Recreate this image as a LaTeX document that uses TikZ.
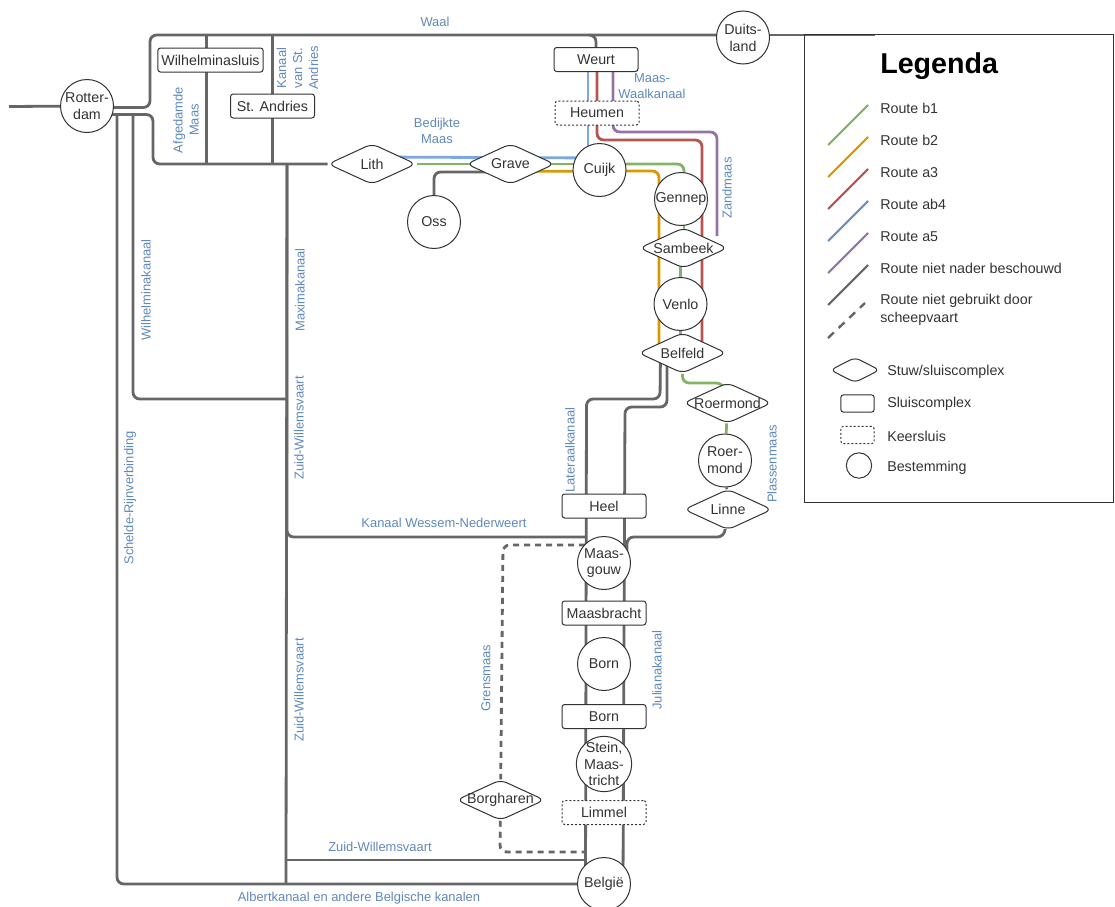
\documentclass[tikz,border=0pt]{standalone}
\usepackage{fontspec}
\setmainfont{Liberation Sans}
\usetikzlibrary{calc,backgrounds,shapes.geometric}
\definecolor{cgreen}{HTML}{82B366}
\definecolor{corange}{HTML}{D79B00}
\definecolor{cred}{HTML}{B85450}
\definecolor{cblue}{HTML}{6C8EBF}
\definecolor{clight}{HTML}{7EA6E0}
\definecolor{cpurple}{HTML}{9673A6}
\definecolor{cline}{HTML}{666666}
\definecolor{ctext}{HTML}{333333}
\definecolor{clabel}{HTML}{5F88BC}
\newcommand{\nb}[1]{\makebox[0pt]{#1}}
\tikzset{
  bnode/.style={draw=ctext, fill=white, line width=0.75pt, text=ctext, inner sep=0pt,
      align=center, font=\fontsize{10.7}{12.6}\selectfont},
  best/.style={bnode, circle, minimum size=39.75pt},
  sluis/.style={bnode, rectangle, rounded corners=2pt, minimum width=63pt, minimum height=18pt},
  keer/.style={sluis, densely dashed, dash pattern=on 1.5pt off 1.5pt},
  stuw/.style={bnode, diamond, rounded corners=5pt, minimum width=66pt, minimum height=30.5pt},
  rte/.style={line width=2.1pt, rounded corners=5pt},
  grl/.style={rte, cline},
  gdash/.style={grl, dash pattern=on 4.5pt off 3.75pt},
  lab/.style={text=clabel, inner sep=0pt, align=center, font=\fontsize{9.7}{12}\selectfont},
  vlab/.style={lab, rotate=90},
  ltx/.style={text=ctext, inner sep=0pt, anchor=west, align=left, font=\fontsize{10.7}{13.5}\selectfont},
}
\begin{document}
\begin{tikzpicture}[x=0.75pt,y=-0.75pt]
\useasboundingbox (0,0) rectangle (1115,907);
% legend box
\node[draw=ctext, line width=0.75pt, minimum width=231.5pt, minimum height=351pt, inner sep=0pt] (legbox) at (958.7,268.7) {};
% destinations
\node[best] (rotterdam) at (87,106) {\nb{Rotter-}\\\nb{dam}};
\node[best] (duitsland) at (743,37.5) {\nb{Duits-}\\\nb{land}};
\node[best] (cuijk) at (599.5,170) {\nb{Cuijk}};
\node[best] (oss) at (434,222) {\nb{Oss}};
\node[best] (gennep) at (681,199) {\nb{Gennep}};
\node[best] (venlo) at (680.5,304) {\nb{Venlo}};
\node[best] (roermondst) at (725,460.5) {\nb{Roer-}\\\nb{mond}};
\node[best] (maasgouw) at (604,563) {\nb{Maas-}\\\nb{gouw}};
\node[best] (bornst) at (604,664) {\nb{Born}};
\node[best, minimum size=41.5pt] (stein) at (604,764) {\nb{Stein,}\\\nb{Maas-}\\\nb{tricht}};
\node[best] (belgie) at (604,884) {\nb{België}};
% locks
\node[sluis, minimum width=79pt] (wilhelmina) at (210.5,60) {\nb{Wilhelminasluis}};
\node[sluis] (standries) at (272.5,106) {\nb{St. Andries}};
\node[sluis] (weurt) at (596,59.5) {\nb{Weurt}};
\node[keer] (heumen) at (597,113) {\nb{Heumen}};
\node[sluis] (heel) at (604,506) {\nb{Heel}};
\node[sluis] (maasbracht) at (604,613) {\nb{Maasbracht}};
\node[sluis] (bornsl) at (604,716.5) {\nb{Born}};
\node[keer] (limmel) at (604,812.5) {\nb{Limmel}};
% weirs
\node[stuw] (lith) at (372,164) {\nb{Lith}};
\node[stuw] (grave) at (510.5,164) {\nb{Grave}};
\node[stuw] (sambeek) at (683.5,248) {\nb{Sambeek}};
\node[stuw] (belfeld) at (682.5,353) {\nb{Belfeld}};
\node[stuw] (roermond) at (727.5,403) {\nb{Roermond}};
\node[stuw] (linne) at (728,509.5) {\nb{Linne}};
\node[stuw] (borgharen) at (500.5,800) {\nb{Borgharen}};
% free ends
\coordinate (west) at (9,106.5);
\coordinate (legtop) at (875,35);
\coordinate (wtop) at (206.5,35);
\coordinate (wbot) at (206.5,164);
\coordinate (atop) at (272.5,35);
\coordinate (abot) at (272.5,164);
\coordinate (mtop) at (287,164);
\coordinate (mbot) at (286,884);
\coordinate (wktop) at (133,115);
\coordinate (srtop) at (117,115);
\coordinate (wtl) at (590,35);
\coordinate (zand) at (717,236);
\coordinate (zwv) at (286,860);
\begin{scope}[on background layer]
  % grey network
  \draw[grl] (west) -- (rotterdam);
  \draw[grl] ($(rotterdam)+(0,1.5)$) -- (150,107.5) -- (150,35) -- ($(duitsland)+(0,-2.5)$);
  \draw[grl] ($(duitsland)+(0,-2.5)$) -- (legtop);
  \draw[grl] ($(rotterdam)+(0,8.5)$) -- (153,114.5) -- (153,164) -- (lith);
  \draw[grl] (wtop) -- (wbot);
  \draw[grl] (atop) -- (abot);
  \draw[grl] (srtop) -- (117,884) -- (belgie);
  \draw[grl] (wktop) -- (133,399) -- (287,399);
  \draw[grl] (mtop) -- (mbot);
  \draw[grl] (mtop) -- (287,537) -- ($(maasgouw)+(-19,-26)$);
  \draw[grl] (zwv) -- ($(belgie)+(-19,-24)$);
  \draw[grl] (wtl) -- (596,35) -- (weurt);
  \draw[grl] (oss) -- (434,172) -- ($(grave)+(0,8)$);
  \draw[grl] ($(belfeld)+(-22,0)$) -- (660,399) -- (586.5,399) -- ($(belgie)+(-18.5,0)$);
  \draw[grl] ($(belfeld)+(-15.5,0)$) -- (667,407) -- (625,407) -- ($(belgie)+(19,0)$);
  \draw[grl] (linne) -- (724,537) -- (627,537) -- ($(maasgouw)+(23,-8)$);
  \draw[grl] (roermondst) -- (linne);
  \draw[gdash] ($(maasgouw)+(-19,-18)$) -- (503,545) -- (borgharen);
  \draw[gdash] (borgharen) -- (500,852) -- ($(belgie)+(-19,-32)$);
  % routes
  \draw[rte, clight] ($(weurt)+(-8,0)$) -- ($(cuijk)+(-11.5,0)$);
  \draw[rte, clight] ($(cuijk)+(0,-12)$) -- ($(lith)+(0,-7)$);
  \draw[rte, cred] ($(weurt)+(1,0)$) -- (597,140) -- (702,140) -- ($(belfeld)+(19.5,0)$);
  \draw[rte, cpurple] ($(weurt)+(17,0)$) -- (613,132) -- (717,132) -- (zand);
  \draw[rte, cgreen] (lith) -- ($(cuijk)+(0,-6)$);
  \draw[rte, cgreen] ($(cuijk)+(0,-6)$) -- (684,164) -- ($(gennep)+(3,0)$);
  \draw[rte, cgreen] ($(gennep)+(3,0)$) -- ($(sambeek)+(0.5,0)$);
  \draw[rte, cgreen] ($(sambeek)+(-3,0)$) -- (venlo);
  \draw[rte, cgreen] (venlo) -- ($(belfeld)+(-2,0)$);
  \draw[rte, cgreen] (belfeld) -- (682.5,383) -- (723,383) -- (roermond);
  \draw[rte, cgreen] (roermond) -- (roermondst);
  \draw[rte, corange] ($(grave)+(0,7.5)$) -- ($(cuijk)+(0,1)$);
  \draw[rte, corange] ($(cuijk)+(0,1)$) -- (659,171) -- ($(belfeld)+(-23.5,0)$);
\end{scope}
% waterway names
\node[lab] (waal) at (435,22) {Waal};
\node[lab] (bedijkt) at (437,131) {Bedijkte\\Maas};
\node[lab] (mwk) at (652,86) {Maas-\\Waalkanaal};
\node[vlab] (zandm) at (727,188) {Zandmaas};
\node[vlab] (afged) at (186,120) {Afgedamde\\Maas};
\node[vlab] (kvsa) at (297.5,68) {Kanaal\\van St.\\Andries};
\node[vlab] (wilhk) at (146,290) {Wilhelminakanaal};
\node[vlab] (maxk) at (300,290) {Maximakanaal};
\node[vlab] (zwa) at (299,428) {Zuid-Willemsvaart};
\node[vlab] (zwb) at (299,690) {Zuid-Willemsvaart};
\node[vlab] (srv) at (130,498) {Schelde-Rijnverbinding};
\node[lab] (kwn) at (444,523) {Kanaal Wessem-Nederweert};
\node[vlab] (latk) at (570,450) {Lateraalkanaal};
\node[vlab] (plas) at (772,464) {Plassenmaas};
\node[vlab] (grens) at (486,678) {Grensmaas};
\node[vlab] (jul) at (657,670) {Julianakanaal};
\node[lab] (zwc) at (380,847) {Zuid-Willemsvaart};
\node[lab] (alb) at (359,898) {Albertkanaal en andere Belgische kanalen};
% legend
\node[inner sep=0pt, anchor=west, text=black, font=\fontsize{21.5}{24}\selectfont\bfseries] (legtitle) at (880,66) {Legenda};
\foreach \col/\yy/\lb in {cgreen/108/Route b1, corange/140/Route b2, cred/172/Route a3, cblue/204/Route ab4,
    cpurple/236/Route a5, cline/268/Route niet nader beschouwd}{
  \node[ltx] (leg\yy) at (880,\yy+0.7) {\lb};
  \draw[\col, line width=1.6pt] (828,\yy+37) -- (868,\yy-3);
}
\node[ltx] (leg300) at (880,310) {Route niet gebruikt door\\scheepvaart};
\draw[cline, line width=1.8pt, dash pattern=on 6pt off 5pt] (828,338) -- (865,303);
\node[bnode, diamond, rounded corners=4pt, minimum width=37pt, minimum height=19pt] (symstuw) at (855,370) {};
\node[bnode, rectangle, rounded corners=2pt, minimum width=25pt, minimum height=13pt] (symsluis) at (857.5,403.5) {};
\node[bnode, rectangle, rounded corners=2pt, dash pattern=on 1.5pt off 1.5pt, minimum width=25pt, minimum height=13pt] (symkeer) at (857.5,435) {};
\node[bnode, circle, minimum size=19pt] (symbest) at (859,465.5) {};
\node[ltx] (txstuw) at (887,372) {Stuw/sluiscomplex};
\node[ltx] (txsluis) at (887,404) {Sluiscomplex};
\node[ltx] (txkeer) at (887,436) {Keersluis};
\node[ltx] (txbest) at (887,468) {Bestemming};
\end{tikzpicture}
\end{document}
